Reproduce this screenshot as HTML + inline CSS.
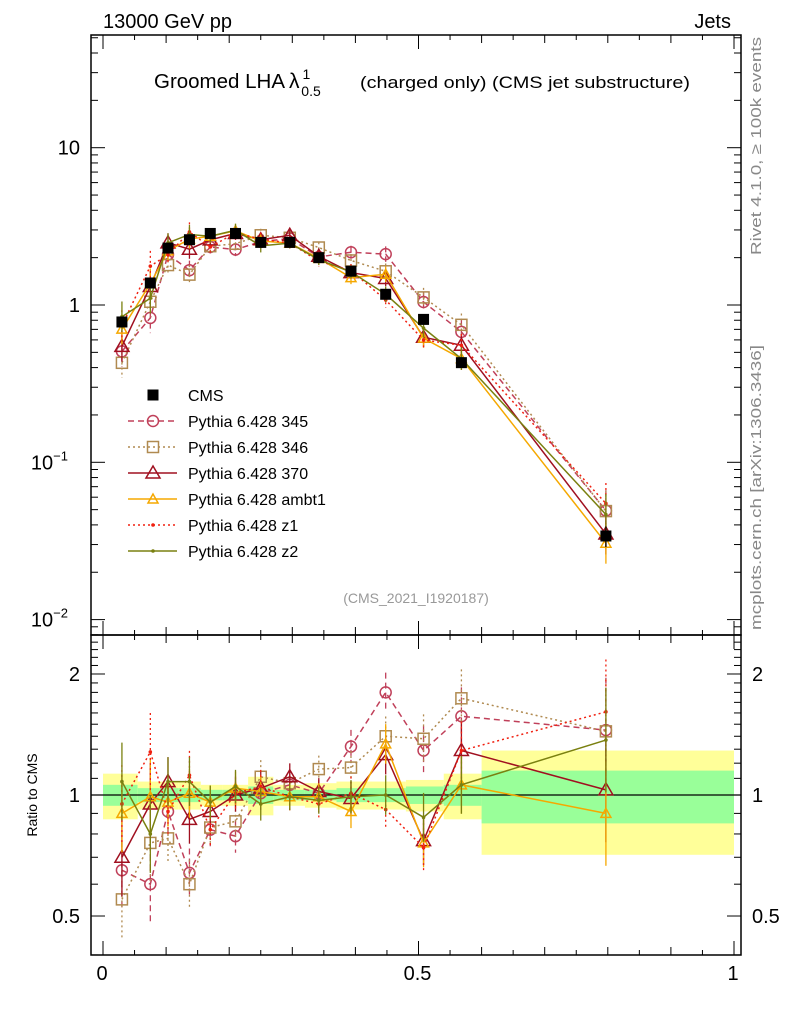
<!DOCTYPE html>
<html><head><meta charset="utf-8"><style>
body{margin:0;background:#fff;}
svg{display:block;font-family:"Liberation Sans",sans-serif;}
</style></head><body>
<svg id="c" width="786" height="1024" viewBox="0 0 786 1024" xmlns="http://www.w3.org/2000/svg">
<rect x="0" y="0" width="786" height="1024" fill="#fff"/>
<g id="bands"></g>
<g id="marks"></g>
<g id="axes"></g>
<text x="103" y="28" font-size="20">13000 GeV pp</text>
<text x="731" y="28" font-size="20" text-anchor="end">Jets</text>
<text x="154" y="88" font-size="20"><tspan textLength="131" lengthAdjust="spacingAndGlyphs">Groomed LHA</tspan><tspan dx="4" font-size="21">λ</tspan><tspan dx="3" dy="-9" font-size="14">1</tspan><tspan dx="-9" dy="17" font-size="14">0.5</tspan></text>
<text x="360" y="88" font-size="17" textLength="330" lengthAdjust="spacingAndGlyphs">(charged only) (CMS jet substructure)</text>
<text x="416" y="603" font-size="14" fill="#999" text-anchor="middle">(CMS_2021_I1920187)</text>
<text transform="translate(761,255) rotate(-90)" font-size="15" fill="#888" textLength="218" lengthAdjust="spacingAndGlyphs">Rivet 4.1.0, ≥ 100k events</text>
<text transform="translate(761,630) rotate(-90)" font-size="15" fill="#888" textLength="285" lengthAdjust="spacingAndGlyphs">mcplots.cern.ch [arXiv:1306.3436]</text>
<text transform="translate(37,795) rotate(-90)" font-size="14" text-anchor="middle">Ratio to CMS</text>
<g id="legend"></g>
</svg>
<script>
const xs=[0.030,0.075,0.103,0.137,0.170,0.210,0.250,0.296,0.342,0.393,0.448,0.508,0.568,0.797];
const edges=[0,0.055,0.09,0.12,0.155,0.19,0.23,0.27,0.32,0.37,0.42,0.48,0.54,0.6,1.0];
const cms=[0.78,1.38,2.3,2.6,2.85,2.85,2.5,2.5,2.0,1.64,1.17,0.81,0.43,0.034];
const cmsErr=[0.06,0.04,0.04,0.04,0.03,0.03,0.05,0.03,0.03,0.04,0.04,0.05,0.06,0.15];
const yelErr=[0.13,0.08,0.08,0.08,0.06,0.06,0.11,0.06,0.07,0.08,0.08,0.09,0.13,0.29];
const grnErr=[0.06,0.04,0.04,0.04,0.03,0.03,0.05,0.03,0.03,0.04,0.04,0.05,0.06,0.15];
const r345=[0.65,0.60,0.91,0.64,0.82,0.79,1.01,1.06,1.01,1.32,1.80,1.29,1.57,1.45];
const r346=[0.55,0.76,0.78,0.60,0.83,0.86,1.11,1.07,1.16,1.17,1.40,1.38,1.74,1.44];
const r370=[0.70,0.95,1.08,0.87,0.91,1.00,1.04,1.11,1.02,0.98,1.26,0.77,1.29,1.03];
const rambt1=[0.90,0.99,0.96,1.01,0.96,1.04,1.02,0.99,0.99,0.91,1.34,0.76,1.06,0.90];
const rz1=[0.95,1.28,0.91,1.12,0.82,1.01,1.05,0.99,0.95,1.01,0.92,0.74,1.29,1.61];
const rz2=[1.08,0.80,1.08,1.08,0.96,1.05,0.95,0.99,0.97,0.99,1.00,0.88,1.06,1.37];
const mcErr=[0.25,0.25,0.15,0.15,0.1,0.1,0.1,0.08,0.08,0.1,0.12,0.15,0.18,0.35];
const names=["CMS","Pythia 6.428 345","Pythia 6.428 346","Pythia 6.428 370","Pythia 6.428 ambt1","Pythia 6.428 z1","Pythia 6.428 z2"];
const X0=91,X1=741,TOP=35,MID=635,BOT=955;
const xp=v=>103+631*v;
const yMain=v=>305-157.3*Math.log10(v);
const yRat=r=>795-402*Math.log10(r);
const NS="http://www.w3.org/2000/svg";
function mk(tag,attrs,parent){const e=document.createElementNS(NS,tag);for(const k in attrs)e.setAttribute(k,attrs[k]);parent.appendChild(e);return e;}
const bands=document.getElementById('bands'),marks=document.getElementById('marks'),axes=document.getElementById('axes'),legend=document.getElementById('legend');
for(let i=0;i<cms.length;i++){
  const x0=xp(edges[i]),x1=xp(edges[i+1]);
  let b=mk('rect',{x:x0,y:yRat(1+yelErr[i]),width:x1-x0,height:yRat(1-yelErr[i])-yRat(1+yelErr[i]),fill:'#ffff99'},bands);
  
  
  let g=mk('rect',{x:x0,y:yRat(1+grnErr[i]),width:x1-x0,height:yRat(1-grnErr[i])-yRat(1+grnErr[i]),fill:'#99ff99'},bands);
  
  
}
let ref=mk('line',{x1:X0,x2:X1,y1:yRat(1),y2:yRat(1),stroke:'#000','stroke-width':1.2},bands);


const series=[
 {key:'345',r:r345,col:'#c0405a',dash:'6,4',m:'circle'},
 {key:'346',r:r346,col:'#b08a50',dash:'2,3',m:'square'},
 {key:'370',r:r370,col:'#a01020',dash:'',m:'tri'},
 {key:'ambt1',r:rambt1,col:'#f5a800',dash:'',m:'trismall'},
 {key:'z1',r:rz1,col:'#f02010',dash:'2,3',m:'dot'},
 {key:'z2',r:rz2,col:'#7a8010',dash:'',m:'dot'}];
function marker(kind,x,y,col,par){
  if(kind==='circle')return mk('circle',{cx:x,cy:y,r:5.5,fill:'none',stroke:col,'stroke-width':1.5},par);
  if(kind==='square')return mk('rect',{x:x-5.5,y:y-5.5,width:11,height:11,fill:'none',stroke:col,'stroke-width':1.5},par);
  if(kind==='tri')return mk('polygon',{points:`${x},${y-7} ${x-7},${y+5} ${x+7},${y+5}`,fill:'none',stroke:col,'stroke-width':1.5},par);
  if(kind==='trismall')return mk('polygon',{points:`${x},${y-5} ${x-5},${y+4} ${x+5},${y+4}`,fill:'none',stroke:col,'stroke-width':1.5},par);
  if(kind==='dot')return mk('circle',{cx:x,cy:y,r:1.8,fill:col},par);
  return mk('rect',{x:x-5.5,y:y-5.5,width:11,height:11,fill:'#000'},par);
}
const clipD=mk('defs',{},document.getElementById('c'));
const cp1=mk('clipPath',{id:'cm'},clipD);mk('rect',{x:X0,y:TOP,width:X1-X0,height:MID-TOP},cp1);
const cp2=mk('clipPath',{id:'cr'},clipD);mk('rect',{x:X0,y:MID,width:X1-X0,height:BOT-MID},cp2);
const gm=mk('g',{'clip-path':'url(#cm)'},marks),gr=mk('g',{'clip-path':'url(#cr)'},marks);
series.forEach(s=>{
  const vals=s.r.map((r,i)=>r*cms[i]);
  [[gm,vals,yMain],[gr,s.r,yRat]].forEach(([par,v,yf])=>{
    const g=mk('g',{},par);
    
    
    const pl=mk('polyline',{points:v.map((d,i)=>xp(xs[i])+','+yf(d)).join(' '),fill:'none',stroke:s.col,'stroke-width':1.5,'stroke-dasharray':s.dash},g);
    
    
    v.forEach((d,i)=>{
      const x=xp(xs[i]);
      const eb=mk('line',{x1:x,x2:x,y1:yf(d*(1+mcErr[i])),y2:yf(d/(1+mcErr[i])),stroke:s.col,'stroke-width':1.3,'stroke-dasharray':s.dash},g);
      
      
      const m=marker(s.m,x,yf(d),s.col,g);
      
      
    });
  });
});
cms.forEach((v,i)=>{
  const x=xp(xs[i]);
  const eb=mk('line',{x1:x,x2:x,y1:yMain(v*(1+cmsErr[i])),y2:yMain(v*(1-cmsErr[i])),stroke:'#000','stroke-width':1.3},gm);
  
  
  const m=marker('cms',x,yMain(v),'#000',gm);
  
  
});
[[TOP,MID],[MID,BOT]].forEach(([a,b])=>{const f=mk('rect',{x:X0,y:a,width:X1-X0,height:b-a,fill:'none',stroke:'#000','stroke-width':1.5},axes);
  
  });
for(let k=0;k<=20;k++){const v=k*0.05,x=xp(v);const L=k%10===0?14:(k%2===0?8:5);
  [[MID,-1],[TOP,1],[BOT,-1]].forEach(([y,d])=>{
    if(y===MID){mk('line',{x1:x,x2:x,y1:y,y2:y-L,stroke:'#000'},axes);mk('line',{x1:x,x2:x,y1:y,y2:y+L,stroke:'#000'},axes);}
    else mk('line',{x1:x,x2:x,y1:y,y2:y+d*L,stroke:'#000'},axes);});}
const xtl=['0','0.5','1'],xtv=[0,0.5,1];
xtv.forEach((v,i)=>{const t=mk('text',{x:xp(v)-1,y:980,'font-size':20,'text-anchor':'middle'},axes);t.textContent=xtl[i];
  
  });
for(let e=-3;e<=1;e++)for(let m=1;m<10;m++){const v=m*Math.pow(10,e),y=yMain(v);if(y<TOP||y>MID)continue;const L=m===1?14:7;
  mk('line',{x1:X0,x2:X0+L,y1:y,y2:y,stroke:'#000'},axes);mk('line',{x1:X1,x2:X1-L,y1:y,y2:y,stroke:'#000'},axes);}
const ytv=[10,1,0.1,0.01];const ytl=['10','1','10','10'];const ytexp=['','','−1','−2'];
ytv.forEach((v,i)=>{const t=mk('text',{x:ytexp[i]?68:80,y:yMain(v)+7,'font-size':20,'text-anchor':'end'},axes);t.textContent=ytl[i];
  
  
  if(ytexp[i]){const s=mk('tspan',{dy:-9,'font-size':13},t);s.textContent=ytexp[i];}});
for(let r=0.4;r<=2.5;r+=0.1){const y=yRat(r);if(y<MID||y>BOT)continue;const maj=Math.abs(r-0.5)<1e-6||Math.abs(r-1)<1e-6||Math.abs(r-2)<1e-6;const L=maj?14:7;
  mk('line',{x1:X0,x2:X0+L,y1:y,y2:y,stroke:'#000'},axes);mk('line',{x1:X1,x2:X1-L,y1:y,y2:y,stroke:'#000'},axes);}
const rtv=[2,1,0.5],rtl=['2','1','0.5'];
rtv.forEach((v,i)=>{[[80,'end'],[752,'start']].forEach(([x,a])=>{const t=mk('text',{x:x,y:yRat(v)+7,'font-size':20,'text-anchor':a},axes);t.textContent=rtl[i];
  
  });});
const lk=['cms'].concat(series.map(s=>s.key));
names.forEach((n,i)=>{const y=395+26*i;const g=mk('g',{},legend);
  
  
  if(i===0){marker('cms',153,y,'#000',g);}
  else{const s=series[i-1];mk('line',{x1:128,x2:177,y1:y,y2:y,stroke:s.col,'stroke-width':1.5,'stroke-dasharray':s.dash},g);marker(s.m,153,y,s.col,g);}
  const t=mk('text',{x:188,y:y+6,'font-size':16},g);t.textContent=n;});
</script>
</body></html>
